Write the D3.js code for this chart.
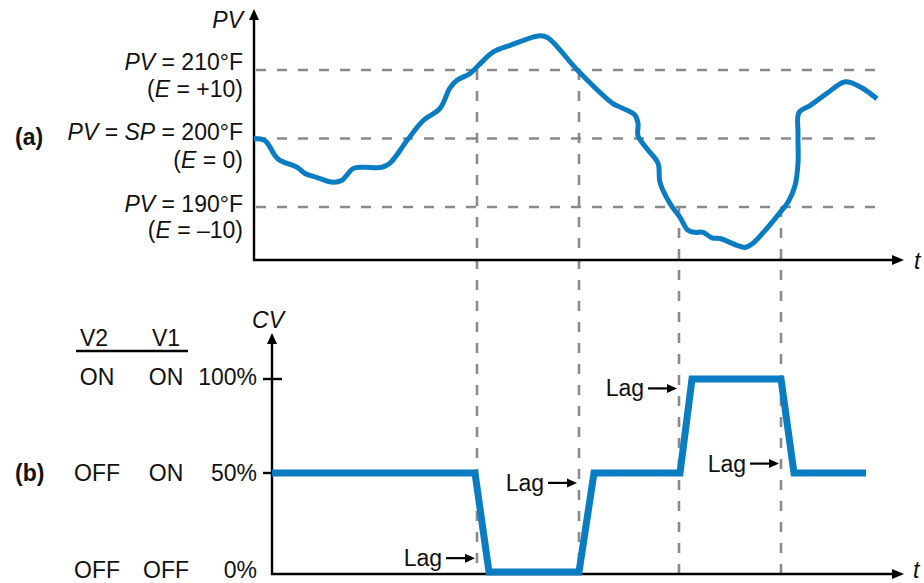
<!DOCTYPE html>
<html>
<head>
<meta charset="utf-8">
<script src="https://cdn.jsdelivr.net/npm/d3@7"></script>
<style>
	body { margin: 0; background: #fff; }
	text { font-family: "Liberation Sans", Arial, Helvetica, sans-serif; fill: #111; }
</style>
</head>
<body>
<svg id="chart" width="924" height="583"></svg>
<script>
"use strict"

//
// data
//
var pvTime  = [0, 1.1, 2.1, 2.6, 4.3, 5.1, 6.3, 7.9, 8.8, 9.9, 10.9, 12.8, 13.6, 15.3, 16.9, 18.6, 19.6, 20.3, 21.6, 22.6, 23.9, 25.6, 28.6, 29.4, 32.4, 35.9, 36.9, 38.1, 38.4, 38.4, 39.3, 40.4, 40.6, 41.6, 42.6, 43.4, 44.1, 44.9, 45.8, 46.6, 48.3, 49.1, 49.9, 51.3, 52.6, 53.4, 54.1, 54.4, 54.4, 54.5, 55.6, 57.3, 58.9, 59.6, 60.9, 62.3];
var pvValue = [200.0, 199.7, 197.5, 196.8, 195.8, 194.9, 194.3, 193.6, 193.9, 195.6, 195.8, 195.8, 196.4, 199.7, 202.6, 204.4, 207.4, 208.5, 209.5, 210.9, 212.6, 213.6, 215.0, 214.7, 209.9, 205.1, 204.4, 203.4, 202.2, 200.4, 198.5, 196.4, 193.6, 190.5, 188.5, 186.6, 186.3, 186.3, 185.5, 185.4, 184.4, 184.1, 184.7, 186.9, 189.2, 190.7, 193.1, 196.4, 200.7, 203.8, 204.8, 206.6, 208.2, 208.2, 207.3, 205.8];

var cvTime  = [1.8, 22.1, 23.5, 32.5, 34.0, 42.6, 43.8, 52.7, 54.0, 61.2];
var cvValue = [50, 50, 0, 0, 50, 50, 100, 100, 50, 50];

var pvLevels = [210, 200, 190];
var pvLabelTop = [["PV", " = 210°F"], ["PV", " = ", "SP", " = 200°F"], ["PV", " = 190°F"]];
var pvLabelBottom = [["(", "E", " = +10)"], ["(", "E", " = 0)"], ["(", "E", " = –10)"]];

var crossTime  = [22.3, 32.5, 42.5, 52.7];
var crossLevel = [210, 210, 190, 190];
var lagLevel   = [7, 45, 95, 55];

var cvTicks = [100, 50, 0];
var cvTickLabels = ["100%", "50%", "0%"];
var valveV2 = ["ON", "OFF", "OFF"];
var valveV1 = ["ON", "ON", "OFF"];

//
// scales
//
var BLUE = "#0a7dc2";
var GREY = "#8a8a8a";
var FS = 23;

var xT  = d3.scaleLinear().domain([0, 65]).range([254, 904]);
var pvY = d3.scaleLinear().domain([190, 210]).range([207, 70]);
var cvY = d3.scaleLinear().domain([0, 50, 100]).range([572, 473, 379]);

var TOP_AXIS_Y = 260;
var BOT_AXIS_Y = 574;
var CV_AXIS_X = 272;

var svg = d3.select("#chart");

function arrowHead(g, x, y, dir, len, half) {
	var p;
	if (dir == "up") p = [[x, y], [x - half, y + len], [x + half, y + len]];
	else p = [[x, y], [x - len, y - half], [x - len, y + half]];
	g.append("path")
		.attr("d", "M" + p.join("L") + "Z")
		.attr("fill", "#000")
		;
}

function richText(g, x, y, parts, italicIdx, anchor) {
	var t = g.append("text")
		.attr("x", x)
		.attr("y", y + 8)
		.attr("text-anchor", anchor || "end")
		.style("font-size", FS + "px")
		;
	parts.forEach(function(s, i) {
		t.append("tspan")
			.attr("font-style", italicIdx.indexOf(i) >= 0 ? "italic" : "normal")
			.text(s);
	});
	return t;
}

//
// dashed guides
//
var gGuide = svg.append("g")
	.attr("stroke", GREY)
	.attr("stroke-width", 2.6)
	.attr("stroke-dasharray", "10,11")
	;
gGuide.selectAll("line.h").data(pvLevels).enter().append("line")
	.attr("class", "h")
	.attr("x1", xT(0) + 2)
	.attr("x2", xT(63))
	.attr("y1", function(d) { return pvY(d); })
	.attr("y2", function(d) { return pvY(d); })
	;
gGuide.selectAll("line.v").data(crossTime).enter().append("line")
	.attr("class", "v")
	.attr("x1", function(d) { return xT(d); })
	.attr("x2", function(d) { return xT(d); })
	.attr("y1", function(d, i) { return pvY(crossLevel[i]); })
	.attr("y2", BOT_AXIS_Y)
	;

//
// (a) PV plot
//
var gA = svg.append("g");
gA.append("line")
	.attr("x1", xT(0)).attr("x2", xT(0))
	.attr("y1", 16).attr("y2", TOP_AXIS_Y + 1)
	.attr("stroke", "#000").attr("stroke-width", 2.4)
	;
gA.append("line")
	.attr("x1", xT(0) - 1).attr("x2", 896)
	.attr("y1", TOP_AXIS_Y).attr("y2", TOP_AXIS_Y)
	.attr("stroke", "#000").attr("stroke-width", 2.4)
	;
arrowHead(gA, xT(0), 9, "up", 11, 5);
arrowHead(gA, 904, TOP_AXIS_Y, "right", 12, 5);

var pvLine = d3.line()
	.x(function(d) { return xT(d[0]); })
	.y(function(d) { return pvY(d[1]); })
	.curve(d3.curveCatmullRom.alpha(0.5))
	;
gA.append("path")
	.datum(d3.zip(pvTime, pvValue))
	.attr("d", pvLine)
	.attr("fill", "none")
	.attr("stroke", BLUE)
	.attr("stroke-width", 5)
	.attr("stroke-linejoin", "round")
	;

richText(gA, 243, 20, ["PV"], [0]);
var pvTextY = [62, 132, 204];
var pvTextY2 = [89, 160, 230];
pvLevels.forEach(function(v, i) {
	var it = (pvLabelTop[i].length > 2) ? [0, 2] : [0];
	richText(gA, 243, pvTextY[i], pvLabelTop[i], it);
	richText(gA, 243, pvTextY2[i], pvLabelBottom[i], [1]);
});
gA.append("text")
	.attr("x", 15).attr("y", 137 + 8)
	.style("font-size", FS + "px").style("font-weight", "bold")
	.text("(a)")
	;
richText(gA, 914, TOP_AXIS_Y + 1, ["t"], [0], "start");

//
// (b) CV plot
//
var gB = svg.append("g");
gB.append("line")
	.attr("x1", CV_AXIS_X).attr("x2", CV_AXIS_X)
	.attr("y1", 340).attr("y2", BOT_AXIS_Y + 1)
	.attr("stroke", "#000").attr("stroke-width", 2.4)
	;
gB.append("line")
	.attr("x1", CV_AXIS_X - 1).attr("x2", 896)
	.attr("y1", BOT_AXIS_Y).attr("y2", BOT_AXIS_Y)
	.attr("stroke", "#000").attr("stroke-width", 2.4)
	;
arrowHead(gB, CV_AXIS_X, 333, "up", 11, 5);
arrowHead(gB, 904, BOT_AXIS_Y, "right", 12, 5);

gB.selectAll("line.tick").data([100, 50]).enter().append("line")
	.attr("class", "tick")
	.attr("x1", CV_AXIS_X - 9).attr("x2", CV_AXIS_X + 10)
	.attr("y1", function(d) { return cvY(d); })
	.attr("y2", function(d) { return cvY(d); })
	.attr("stroke", "#000").attr("stroke-width", 2.4)
	;

var cvLine = d3.line()
	.x(function(d) { return xT(d[0]); })
	.y(function(d) { return cvY(d[1]); })
	;
gB.append("path")
	.datum(d3.zip(cvTime, cvValue))
	.attr("d", cvLine)
	.attr("fill", "none")
	.attr("stroke", BLUE)
	.attr("stroke-width", 7)
	.attr("stroke-linejoin", "miter")
	;

var rowY = [377, 473, 570];
cvTicks.forEach(function(v, i) {
	richText(gB, 257, rowY[i], [cvTickLabels[i]], []);
	richText(gB, 97, rowY[i], [valveV2[i]], [], "middle");
	richText(gB, 166, rowY[i], [valveV1[i]], [], "middle");
});
richText(gB, 94, 338, ["V2"], [], "middle");
richText(gB, 166, 338, ["V1"], [], "middle");
gB.append("line")
	.attr("x1", 76).attr("x2", 188)
	.attr("y1", 351).attr("y2", 351)
	.attr("stroke", "#000").attr("stroke-width", 2.4)
	;
gB.append("text")
	.attr("x", 15).attr("y", 473 + 8)
	.style("font-size", FS + "px").style("font-weight", "bold")
	.text("(b)")
	;
richText(gB, 268, 320, ["CV"], [0], "middle");
richText(gB, 913, BOT_AXIS_Y - 4, ["t"], [0], "start");

//
// lag annotations
//
crossTime.forEach(function(t, i) {
	var tip = xT(t) - 2;
	var y = cvY(lagLevel[i]);
	gB.append("line")
		.attr("x1", tip - 29).attr("x2", tip - 8)
		.attr("y1", y).attr("y2", y)
		.attr("stroke", "#000").attr("stroke-width", 2.2)
		;
	arrowHead(gB, tip, y, "right", 10, 4.5);
	richText(gB, tip - 33, y, ["Lag"], []);
});
</script>
</body>
</html>
